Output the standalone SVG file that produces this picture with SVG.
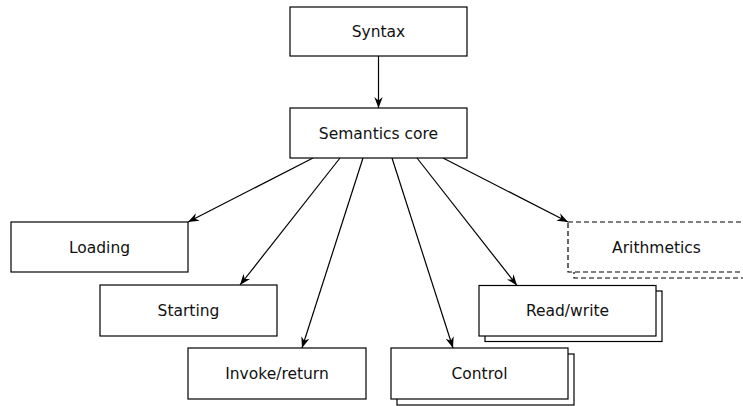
<svg xmlns="http://www.w3.org/2000/svg" width="743" height="406" viewBox="0 0 743 406">
<style>
.box{fill:#fff;stroke:#000;stroke-width:1.2}
.dash{stroke-dasharray:5,3}
text{font-family:"DejaVu Sans",sans-serif;font-size:15.5px;text-anchor:middle;fill:#111}
.edge{stroke:#000;stroke-width:1.2;fill:none;marker-end:url(#arr)}
</style>
<defs>
<marker id="arr" markerUnits="userSpaceOnUse" markerWidth="12" markerHeight="10" viewBox="0 0 12 10" refX="11" refY="5" orient="auto">
<path d="M0,0.8 L11,5 L0,9.2 L3.5,5 z" fill="#000"/>
</marker>
</defs>
<rect width="743" height="406" fill="#fff"/>
<g id="connectors">
<line class="edge" x1="378.5" y1="56" x2="378.5" y2="108"/>
<line class="edge" x1="313" y1="158" x2="188" y2="222"/>
<line class="edge" x1="340" y1="158" x2="240" y2="285"/>
<line class="edge" x1="363" y1="158" x2="302" y2="348"/>
<line class="edge" x1="392" y1="158" x2="453" y2="348"/>
<line class="edge" x1="417" y1="158" x2="517" y2="285.5"/>
<line class="edge" x1="443" y1="158" x2="568" y2="222"/>
</g>
<g id="syntax"><rect class="box" x="290" y="7" width="177" height="49"/><text x="378.5" y="37">Syntax</text></g>
<g id="semantics"><rect class="box" x="290" y="108" width="177" height="50"/><text x="378.5" y="138.5">Semantics core</text></g>
<g id="loading"><rect class="box" x="11" y="222" width="177" height="50"/><text x="99.5" y="252.5">Loading</text></g>
<g id="starting"><rect class="box" x="100" y="285" width="177" height="51"/><text x="188.5" y="316">Starting</text></g>
<g id="invoke"><rect class="box" x="188" y="348" width="178" height="51"/><text x="277" y="379">Invoke/return</text></g>
<g id="control"><rect class="box" x="397" y="354" width="177" height="51"/><rect class="box" x="391" y="348" width="177" height="51"/><text x="479.5" y="379">Control</text></g>
<g id="readwrite"><rect class="box" x="485" y="291" width="177" height="50.5"/><rect class="box" x="479" y="285.5" width="177" height="50.5"/><text x="567.5" y="316">Read/write</text></g>
<g id="arithmetics"><rect class="box dash" x="574" y="228" width="177" height="50"/><rect class="box dash" x="568" y="222" width="177" height="50"/><text x="656.5" y="252.5">Arithmetics</text></g>
</svg>
